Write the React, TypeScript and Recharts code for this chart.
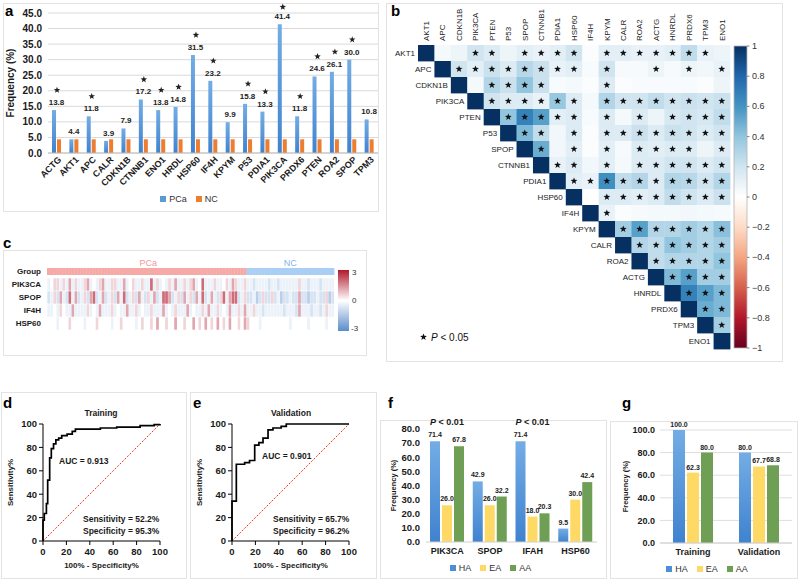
import React from 'react';
import {
  BarChart, Bar, XAxis, YAxis, CartesianGrid, Legend, LabelList,
  ScatterChart, Scatter, LineChart, Line, ReferenceLine,
} from 'recharts';

const FONT = '"Liberation Sans", Arial, Helvetica, sans-serif';
const INK = '#1a1a1a';

// a — detection frequency per protein, PCa vs NC
const freqGenes = ['ACTG', 'AKT1', 'APC', 'CALR', 'CDKN1B', 'CTNNB1', 'ENO1', 'HRDL', 'HSP60', 'IF4H', 'KPYM', 'P53', 'PDIA1', 'PIK3CA', 'PRDX6', 'PTEN', 'ROA2', 'SPOP', 'TPM3'];
const freqPCa = [13.8, 4.4, 11.8, 3.9, 7.9, 17.2, 13.8, 14.8, 31.5, 23.2, 9.9, 15.8, 13.3, 41.4, 11.8, 24.6, 26.1, 30.0, 10.8];
const freqNC = [4.4, 4.4, 4.4, 4.4, 4.4, 4.4, 4.4, 4.4, 4.4, 4.4, 4.4, 4.4, 4.4, 4.4, 4.4, 4.4, 4.4, 4.4, 4.4];
const freqSig = [1, 0, 1, 0, 0, 1, 1, 1, 1, 1, 0, 1, 1, 1, 1, 1, 1, 1, 0];
const freqTicks = [0, 5, 10, 15, 20, 25, 30, 35, 40, 45];

// b — pairwise correlation (upper triangle, row by row, diagonal = 1)
const corrGenes = ['AKT1', 'APC', 'CDKN1B', 'PIK3CA', 'PTEN', 'P53', 'SPOP', 'CTNNB1', 'PDIA1', 'HSP60', 'IF4H', 'KPYM', 'CALR', 'ROA2', 'ACTG', 'HNRDL', 'PRDX6', 'TPM3', 'ENO1'];
const corrUpper = [
  [0.05, 0.08, 0.2, 0.15, 0.08, 0.12, 0.1, 0.12, 0.2, 0.02, 0.12, 0.12, 0.1, 0.1, 0.12, 0.25, 0.1, 0.08],
  [0.2, 0.12, 0.22, 0.15, 0.28, 0.22, 0.1, 0.12, 0.03, 0.2, 0.04, 0.04, 0.08, 0.04, 0.08, 0.06, 0.1],
  [0.05, 0.3, 0.22, 0.4, 0.22, 0.03, 0.05, 0.02, 0.15, 0.02, 0.03, 0.03, 0.03, 0.03, 0.02, 0.08],
  [0.2, 0.15, 0.15, 0.1, 0.38, 0.15, 0.05, 0.3, 0.2, 0.2, 0.25, 0.2, 0.22, 0.2, 0.22],
  [0.4, 0.68, 0.55, 0.12, 0.15, 0.03, 0.15, 0.05, 0.15, 0.08, 0.18, 0.2, 0.18, 0.25],
  [0.45, 0.25, 0.06, 0.15, 0.02, 0.15, 0.15, 0.22, 0.15, 0.22, 0.2, 0.15, 0.2],
  [0.5, 0.06, 0.12, 0.02, 0.12, 0.04, 0.15, 0.12, 0.15, 0.15, 0.08, 0.15],
  [0.1, 0.15, 0.06, 0.12, 0.05, 0.15, 0.15, 0.2, 0.2, 0.15, 0.2],
  [0.12, 0.1, 0.62, 0.25, 0.3, 0.15, 0.3, 0.28, 0.2, 0.3],
  [0.0, 0.15, 0.15, 0.12, 0.15, 0.25, 0.2, 0.15, 0.22],
  [0.1, 0.02, 0.04, 0.05, 0.05, 0.06, 0.05, 0.04],
  [0.35, 0.55, 0.3, 0.3, 0.35, 0.3, 0.42],
  [0.3, 0.25, 0.4, 0.35, 0.3, 0.35],
  [0.25, 0.3, 0.3, 0.3, 0.4],
  [0.45, 0.55, 0.35, 0.35],
  [0.68, 0.55, 0.45],
  [0.5, 0.45],
  [0.35],
];
const corrStars = [
  '..**.****.*******.',
  '********.*..*.*.*',
  '.****...*.......',
  '******.********',
  '*****.*.*.****',
  '**.*.********',
  '*.*.*.****.*',
  '**.*.******',
  '**********',
  '.********',
  '*.......',
  '*******',
  '******',
  '*****',
  '****',
  '***',
  '**',
  '*',
];
const corrBarTicks = [1, 0.8, 0.6, 0.4, 0.2, 0, -0.2, -0.4, -0.6, -0.8, -1];

// c — per-sample z-scores; one letter per sample (see exprLevels)
const exprRows = ['PIK3CA', 'SPOP', 'IF4H', 'HSP60'];
const exprPCa = [
  'cdeececfcec cefcdcefcce eccfcdeccec cgcecdcecfc cecefcdgccc eccdecfecce',
  'bcebfcbgcfb cebfgbcfbce bfcgbcebfcb ecfbcggfbce bfcebfcgbcf cbegcfggbce',
  'ccdcedccfcc ccecdcfccce cdccfccecdc cecccfcdcec ccfcdccecfc cecdcfccecf',
  'dddcdddeddd dcdddeddddc ddeddddcded dedfddeddfd deddfdedfde dfdedfddedf',
];
const exprNC = [
  'ccbccccbccb cccccceccbc ccbcccc',
  'bbcabebbebc abbcbbfbbab bcbbeab',
  'cceccbccccc cbcccbfcccb ccbcecc',
  'edddcdddddd dddcdddddcd ddddcdd',
];
const exprLevels: Record<string, number> = { a: -1.3, b: -0.75, c: -0.35, d: 0, e: 0.55, f: 1.15, g: 1.9 };

// d, e — ROC curves (100 - specificity, sensitivity)
const trainFpr = [0, 0, 1.1, 2.9, 4, 5.7, 7.1, 9, 11, 13.4, 16, 20.6, 25, 27.7, 49, 63, 83, 95, 100];
const trainTpr = [0, 17.8, 23.5, 32, 52, 71, 79, 83, 86.5, 88, 90, 91.4, 93.7, 95.7, 96.6, 97.4, 98.6, 99.4, 100];
const validFpr = [0, 0, 3.7, 10.8, 15, 19.4, 23, 26.5, 30.8, 35, 42, 46.4, 100];
const validTpr = [0, 34, 65.6, 67, 68.8, 82, 84, 88, 95, 96.6, 98, 100, 100];
const rocTicks = [0, 20, 40, 60, 80, 100];

// f — frequency by ancestry
const raceGenes = ['PIK3CA', 'SPOP', 'IFAH', 'HSP60'];
const raceHA = [71.4, 42.9, 71.4, 9.5];
const raceEA = [26.0, 26.0, 18.0, 30.0];
const raceAA = [67.8, 32.2, 20.3, 42.4];
const raceNote = ['P < 0.01', '', 'P < 0.01', ''];
const raceTicks = [0, 10, 20, 30, 40, 50, 60, 70, 80];

// g — model accuracy by ancestry
const cohorts = ['Training', 'Validation'];
const cohortHA = [100.0, 80.0];
const cohortEA = [62.3, 67.7];
const cohortAA = [80.0, 68.8];
const cohortTicks = [0, 20, 40, 60, 80, 100];

const C_BLUE = '#4a8fd8';
const C_ORANGE = '#ed7d31';
const C_YELLOW = '#ffd966';
const C_GREEN = '#6f9e55';

// ---------- helpers ----------
const rgb = (h: string) => [1, 3, 5].map((k) => parseInt(h.slice(k, k + 2), 16));
const mix = (a: string, b: string, t: number) => {
  const A = rgb(a), B = rgb(b);
  return `rgb(${A.map((v, i) => Math.round(v + (B[i] - v) * t)).join(',')})`;
};
const corrStops: [number, string][] = [
  [-1, '#67001F'], [-0.8, '#B2182B'], [-0.6, '#D6604D'], [-0.4, '#F4A582'], [-0.2, '#FDDBC7'],
  [0, '#FFFFFF'], [0.2, '#D1E5F0'], [0.4, '#92C5DE'], [0.6, '#4393C3'], [0.8, '#2166AC'], [1, '#053061'],
];
const corrColor = (v: number) => {
  for (let k = 0; k < corrStops.length - 1; k++) {
    const [v0, c0] = corrStops[k];
    const [v1, c1] = corrStops[k + 1];
    if (v <= v1) return mix(c0, c1, (v - v0) / (v1 - v0));
  }
  return corrStops[corrStops.length - 1][1];
};
const exprColor = (v: number) =>
  v < 0 ? mix('#ffffff', '#5a8dcc', Math.min(1, -v / 3)) : mix('#ffffff', '#b2182b', Math.min(1, v / 3));

const starPath = (cx: number, cy: number, r: number) => {
  let d = '';
  for (let k = 0; k < 10; k++) {
    const rr = k % 2 === 0 ? r : r * 0.42;
    const a = -Math.PI / 2 + (k * Math.PI) / 5;
    d += (k === 0 ? 'M' : 'L') + (cx + rr * Math.cos(a)).toFixed(2) + ',' + (cy + rr * Math.sin(a)).toFixed(2);
  }
  return d + 'Z';
};
const fmt1 = (v: any) => Number(v).toFixed(1);
const boldTick = (size: number) => ({ fontFamily: FONT, fontSize: size, fontWeight: 700, fill: INK });
const sideLabel = (value: string, offset: number, size: number) => ({
  value, angle: -90, position: 'insideLeft' as const, offset,
  fill: INK, fontSize: size, fontWeight: 700, fontFamily: FONT,
  style: { textAnchor: 'middle' },
});

function KeyRow({ items, height, padBottom, padLeft = 0 }: { items: [string, string][]; height: number; padBottom: number; padLeft?: number }) {
  return (
    <div style={{
      display: 'flex', justifyContent: 'center', alignItems: 'center', gap: 9, height,
      paddingBottom: padBottom, paddingLeft: padLeft, boxSizing: 'border-box',
      fontFamily: FONT, fontSize: 9, color: '#333',
    }}>
      {items.map(([name, color]) => (
        <span key={name} style={{ display: 'flex', alignItems: 'center' }}>
          <span style={{ display: 'inline-block', width: 6, height: 6, background: color, marginRight: 3 }} />
          {name}
        </span>
      ))}
    </div>
  );
}

const blueGradient = (id: string) => (
  <linearGradient id={id} x1="0" y1="0" x2="0" y2="1">
    <stop offset="0%" stopColor="#74ade5" />
    <stop offset="100%" stopColor="#3f82cf" />
  </linearGradient>
);

// ---------- a ----------
const freqData = freqGenes.map((gene, i) => ({ gene, PCa: freqPCa[i], NC: freqNC[i], star: freqSig[i] }));

function SlantTick({ x, y, payload }: any) {
  return (
    <text transform={`translate(${x + 3},${y + 1}) rotate(-45)`} textAnchor="end" dy="0.35em"
      fontFamily={FONT} fontSize={9} fontWeight={700} fill={INK}>
      {payload.value}
    </text>
  );
}
function FreqValue(props: any) {
  const vb = props.viewBox || props;
  return (
    <text x={vb.x + vb.width + 0.5} y={vb.y - 5} textAnchor="middle" fontFamily={FONT} fontSize={8} fontWeight={700} fill="#222">
      {fmt1(props.value)}
    </text>
  );
}
function FreqStar(props: any) {
  if (!props.value) return null;
  const vb = props.viewBox || props;
  return <path d={starPath(vb.x + vb.width + 1, Math.max(vb.y - 20, 7), 3.4)} fill="#222" />;
}

function FreqChart() {
  return (
    <BarChart width={380} height={212} data={freqData} margin={{ top: 13, right: 2, left: 0, bottom: 0 }} barSize={4} barGap={1}>
      <defs>{blueGradient('gradA')}</defs>
      <CartesianGrid vertical={false} stroke="#d9d9d9" />
      <XAxis dataKey="gene" interval={0} height={36} tickSize={0} tickMargin={4} tickLine={false}
        axisLine={{ stroke: '#bdbdbd' }} tick={<SlantTick />} />
      <YAxis width={48} domain={[0, 45]} ticks={freqTicks} interval={0} tickFormatter={fmt1} axisLine={false} tickLine={false}
        tickSize={0} tickMargin={6} tick={boldTick(10)} label={sideLabel('Frequency (%)', 10, 10)} />
      <Legend verticalAlign="bottom" content={() => (
        <KeyRow items={[['PCa', '#5b9bd5'], ['NC', C_ORANGE]]} height={23} padBottom={4} />
      )} />
      <Bar dataKey="PCa" fill="url(#gradA)" isAnimationActive={false}>
        <LabelList dataKey="PCa" content={<FreqValue />} />
        <LabelList dataKey="star" content={<FreqStar />} />
      </Bar>
      <Bar dataKey="NC" fill={C_ORANGE} isAnimationActive={false} />
    </BarChart>
  );
}

// ---------- b ----------
const B_W = 312, B_H = 304;
const CELL_W = B_W / corrGenes.length, CELL_H = B_H / corrGenes.length;
const corrCells: any[] = [];
corrGenes.forEach((_, i) => {
  corrCells.push({ x: i, y: i, v: 1, star: false, diag: true });
  (corrUpper[i] || []).forEach((v, k) => {
    corrCells.push({ x: i + k + 1, y: i, v, star: corrStars[i][k] === '*', diag: false });
  });
});
const bText = { fontFamily: FONT, fontSize: 8, fill: '#222' };

function CorrCell({ cx, cy, payload }: any) {
  return (
    <g>
      <rect x={cx - CELL_W / 2} y={cy - CELL_H / 2} width={CELL_W + 0.4} height={CELL_H + 0.4} fill={corrColor(payload.v)} />
      {payload.star && <path d={starPath(cx, cy, 3.6)} fill="#111" />}
      {payload.diag && (
        <text x={cx - CELL_W / 2 - 3} y={cy} textAnchor="end" dominantBaseline="central" {...bText}>
          {corrGenes[payload.y]}
        </text>
      )}
    </g>
  );
}
function CorrColTick({ x, y, payload }: any) {
  return (
    <text x={x} y={y} transform={`rotate(-90 ${x} ${y})`} dy="0.35em" textAnchor="start" {...bText}>
      {corrGenes[payload.value]}
    </text>
  );
}

function CorrChart() {
  return (
    <ScatterChart width={397} height={359} margin={{ top: 2, right: 397 - 32 - B_W, left: 32, bottom: 359 - 42 - B_H }}>
      <XAxis type="number" dataKey="x" orientation="top" domain={[-0.5, corrGenes.length - 0.5]}
        ticks={corrGenes.map((_, i) => i)} interval={0} height={40} axisLine={false} tickLine={false}
        tickSize={0} tickMargin={4} tick={<CorrColTick />} />
      <YAxis type="number" dataKey="y" domain={[-0.5, corrGenes.length - 0.5]} reversed hide />
      <Scatter data={corrCells} shape={<CorrCell />} isAnimationActive={false} />
    </ScatterChart>
  );
}

// ---------- c ----------
const decode = (s: string) => s.replace(/\s/g, '').split('').map((ch) => exprLevels[ch]);
const pcaN = decode(exprPCa[0]).length;
const ncN = decode(exprNC[0]).length;
const exprTotal = pcaN + ncN;
const C_W = 287, C_H = 65;
const C_CW = C_W / exprTotal, C_RH = C_H / 5;
const exprCells: any[] = [];
for (let j = 0; j < exprTotal; j++) {
  const group = j < pcaN ? 'PCa' : 'NC';
  const mid = j === Math.floor(pcaN / 2) || j === pcaN + Math.floor(ncN / 2);
  exprCells.push({ x: j, y: 0, group, label: mid ? group : '' });
}
exprRows.forEach((_, r) => {
  const vals = [...decode(exprPCa[r]), ...decode(exprNC[r])];
  vals.forEach((v, j) => exprCells.push({ x: j, y: r + 1, v }));
});

function ExprCell({ cx, cy, payload }: any) {
  if (payload.group) {
    const pca = payload.group === 'PCa';
    return (
      <g>
        <rect x={cx - C_CW / 2} y={cy - 3.5} width={C_CW + 0.4} height={7} fill={pca ? '#f6aaa8' : '#aacff4'} />
        {payload.label && (
          <text x={cx} y={cy - 5.5} textAnchor="middle" fontFamily={FONT} fontSize={9} fill={pca ? '#f39a98' : '#7fb5ee'}>
            {payload.label}
          </text>
        )}
      </g>
    );
  }
  // thin stripe per sample, with a hairline of white between samples
  return <rect x={cx - C_CW / 2 + 0.35} y={cy - C_RH / 2 + 0.3} width={C_CW - 0.3} height={C_RH - 0.6} fill={exprColor(payload.v)} />;
}

function ExprChart() {
  const rowNames = ['Group', ...exprRows];
  return (
    <ScatterChart width={370} height={120} margin={{ top: 25, right: 370 - 47 - C_W, left: 0, bottom: 120 - 25 - C_H }}>
      <XAxis type="number" dataKey="x" domain={[-0.5, exprTotal - 0.5]} hide />
      <YAxis type="number" dataKey="y" domain={[-0.5, 4.5]} reversed ticks={[0, 1, 2, 3, 4]} interval={0} width={47}
        tickFormatter={(i: number) => rowNames[i]} axisLine={false} tickLine={false} tickSize={0} tickMargin={6}
        tick={boldTick(8)} />
      <Scatter data={exprCells} shape={<ExprCell />} isAnimationActive={false} />
    </ScatterChart>
  );
}

// ---------- d, e ----------
function RocChart({ fpr, tpr }: { fpr: number[]; tpr: number[] }) {
  const curve = fpr.map((x, i) => ({ fpr: x, tpr: tpr[i] }));
  return (
    <LineChart width={188} height={189} data={curve} margin={{ top: 32, right: 28, left: 5, bottom: 8 }}>
      <XAxis type="number" dataKey="fpr" domain={[0, 100]} ticks={rocTicks} interval={0} height={32} stroke="#000"
        tickSize={4} tickMargin={3} tick={boldTick(9.5)}
        label={{ value: '100% - Specificity%', position: 'insideBottom', offset: 5, fill: INK, fontSize: 8, fontWeight: 700, fontFamily: FONT }} />
      <YAxis type="number" domain={[0, 100]} ticks={rocTicks} interval={0} width={38} stroke="#000"
        tickSize={4} tickMargin={2} tick={boldTick(9.5)} label={sideLabel('Sensitivity%', 5, 8)} />
      {/* chance diagonal */}
      <ReferenceLine segment={[{ x: 0, y: 0 }, { x: 100, y: 100 }]} stroke="#ff3311" strokeWidth={1} strokeDasharray="2 1.5" />
      <Line dataKey="tpr" type="stepAfter" stroke="#000" strokeWidth={1.7} dot={false} isAnimationActive={false} />
    </LineChart>
  );
}

// ---------- f, g ----------
function PNote(props: any) {
  if (!props.value) return null;
  const vb = props.viewBox || props;
  const text = String(props.value);
  return (
    <text x={vb.x + 17} y={25} textAnchor="middle" fontFamily={FONT} fontSize={9} fontWeight={700} fill={INK}>
      <tspan fontStyle="italic">{text.slice(0, 1)}</tspan>{text.slice(1)}
    </text>
  );
}
const valueLabel = { position: 'top' as const, formatter: fmt1, fill: '#222', fontSize: 7, fontWeight: 700, fontFamily: FONT };

function RaceChart() {
  const data = raceGenes.map((gene, i) => ({ gene, HA: raceHA[i], EA: raceEA[i], AA: raceAA[i], note: raceNote[i] }));
  return (
    <BarChart width={227} height={181} data={data} margin={{ top: 29, right: 10, left: 0, bottom: 0 }} barSize={10} barGap={2}>
      <defs>{blueGradient('gradF')}</defs>
      <XAxis dataKey="gene" height={18} tickLine={false} axisLine={{ stroke: '#cfcfcf' }} tickSize={0} tickMargin={6} tick={boldTick(9)} />
      <YAxis width={46} domain={[0, 80]} ticks={raceTicks} interval={0} tickFormatter={fmt1} axisLine={false} tickLine={false}
        tickSize={0} tickMargin={6} tick={boldTick(9.5)} label={sideLabel('Frequency (%)', 13, 7.5)} />
      <Legend verticalAlign="bottom" content={() => (
        <KeyRow items={[['HA', C_BLUE], ['EA', C_YELLOW], ['AA', C_GREEN]]} height={21} padBottom={5} padLeft={4} />
      )} />
      <Bar dataKey="HA" fill="url(#gradF)" isAnimationActive={false}>
        <LabelList dataKey="HA" offset={4} {...valueLabel} />
        <LabelList dataKey="note" content={<PNote />} />
      </Bar>
      <Bar dataKey="EA" fill={C_YELLOW} isAnimationActive={false}>
        <LabelList dataKey="EA" offset={4} {...valueLabel} />
      </Bar>
      <Bar dataKey="AA" fill={C_GREEN} isAnimationActive={false}>
        <LabelList dataKey="AA" offset={4} {...valueLabel} />
      </Bar>
    </BarChart>
  );
}

function CohortChart() {
  const data = cohorts.map((name, i) => ({ name, HA: cohortHA[i], EA: cohortEA[i], AA: cohortAA[i] }));
  return (
    <BarChart width={190} height={181} data={data} margin={{ top: 30, right: 8, left: 0, bottom: 0 }} barSize={12} barGap={2}>
      <defs>{blueGradient('gradG')}</defs>
      <CartesianGrid vertical={false} stroke="#dedede" />
      <XAxis dataKey="name" height={18} tickLine={false} axisLine={{ stroke: '#cfcfcf' }} tickSize={0} tickMargin={6} tick={boldTick(9)} />
      <YAxis width={50} domain={[0, 100]} ticks={cohortTicks} interval={0} tickFormatter={fmt1} axisLine={false} tickLine={false}
        tickSize={0} tickMargin={5} tick={boldTick(9)} label={sideLabel('Frequency (%)', 15, 7.5)} />
      <Legend verticalAlign="bottom" content={() => (
        <KeyRow items={[['HA', C_BLUE], ['EA', C_YELLOW], ['AA', C_GREEN]]} height={20} padBottom={4} padLeft={12} />
      )} />
      <Bar dataKey="HA" fill="url(#gradG)" isAnimationActive={false}>
        <LabelList dataKey="HA" offset={3} {...valueLabel} />
      </Bar>
      <Bar dataKey="EA" fill={C_YELLOW} isAnimationActive={false}>
        <LabelList dataKey="EA" offset={3} {...valueLabel} />
      </Bar>
      <Bar dataKey="AA" fill={C_GREEN} isAnimationActive={false}>
        <LabelList dataKey="AA" offset={3} {...valueLabel} />
      </Bar>
    </BarChart>
  );
}

// ---------- page ----------
const panelLetter = { fontFamily: FONT, fontSize: 15, fontWeight: 700, fill: '#000' };
const note = { fontFamily: FONT, fontSize: 8.5, fontWeight: 700, fill: INK, dominantBaseline: 'central' as const };

function Backdrop() {
  const cbTop = 46, cbH = 302;
  return (
    <svg width={800} height={581} style={{ position: 'absolute', left: 0, top: 0 }}>
      <defs>
        <linearGradient id="corrBar" x1="0" y1="0" x2="0" y2="1">
          {[...corrStops].reverse().map(([v, c]) => <stop key={v} offset={`${((1 - v) / 2) * 100}%`} stopColor={c} />)}
        </linearGradient>
        <linearGradient id="exprBar" x1="0" y1="0" x2="0" y2="1">
          <stop offset="0%" stopColor="#b2182b" />
          <stop offset="50%" stopColor="#ffffff" />
          <stop offset="100%" stopColor="#5a8dcc" />
        </linearGradient>
      </defs>
      <g fill="none" stroke="#e3e3e3">
        <rect x={3.5} y={3.5} width={375} height={208} />
        <rect x={386.5} y={3.5} width={396} height={358} />
        <rect x={3.5} y={250.5} width={363} height={105} />
        <rect x={1.5} y={392.5} width={185} height={186} />
        <rect x={190.5} y={392.5} width={186} height={186} />
        <rect x={380.5} y={420.5} width={226} height={158} />
        <rect x={610.5} y={421.5} width={187} height={157} />
      </g>
      <text x={5} y={16} {...panelLetter}>a</text>
      <text x={391} y={16} {...panelLetter}>b</text>
      <text x={3} y={248} {...panelLetter}>c</text>
      <text x={3} y={408} {...panelLetter}>d</text>
      <text x={193} y={408} {...panelLetter}>e</text>
      <text x={388} y={408} {...panelLetter}>f</text>
      <text x={622} y={408} {...panelLetter}>g</text>

      {/* b colour key */}
      <rect x={734} y={cbTop} width={13} height={cbH} fill="url(#corrBar)" stroke="#b5b5b5" strokeWidth={0.8} />
      {corrBarTicks.map((v) => {
        const y = cbTop + ((1 - v) / 2) * cbH;
        return (
          <g key={v}>
            <line x1={747} x2={749.5} y1={y} y2={y} stroke="#666" strokeWidth={0.8} />
            <text x={752} y={y} dominantBaseline="central" fontFamily={FONT} fontSize={9} fill="#333">
              {v === 0 ? '0' : v < 0 ? `\u2212${Math.abs(v)}` : String(v)}
            </text>
          </g>
        );
      })}
      <path d={starPath(423.5, 337, 3.6)} fill="#111" />
      <text x={431} y={337} dominantBaseline="central" fontFamily={FONT} fontSize={10} fill="#111">
        <tspan fontStyle="italic">P</tspan> {'< 0.05'}
      </text>

      {/* c colour key */}
      <rect x={338} y={270} width={11} height={61} fill="url(#exprBar)" />
      <text x={352} y={272} dominantBaseline="central" fontFamily={FONT} fontSize={8} fill="#333">3</text>
      <text x={352} y={300} dominantBaseline="central" fontFamily={FONT} fontSize={8} fill="#333">0</text>
      <text x={351} y={328} dominantBaseline="central" fontFamily={FONT} fontSize={8} fill="#333">-3</text>

      {/* d, e annotations */}
      <text x={101} y={413} textAnchor="middle" {...note}>Training</text>
      <text x={59} y={461} {...note}>AUC = 0.913</text>
      <text x={83} y={519} {...note}>Sensitivity = 52.2%</text>
      <text x={83} y={531} {...note}>Specificity = 95.3%</text>
      <text x={291} y={413} textAnchor="middle" {...note}>Validation</text>
      <text x={262} y={456} {...note}>AUC = 0.901</text>
      <text x={273} y={519} {...note}>Sensitivity = 65.7%</text>
      <text x={273} y={531} {...note}>Specificity = 96.2%</text>
    </svg>
  );
}

export default function App() {
  return (
    <div style={{ position: 'absolute', left: 0, top: 0, width: 800, height: 581, background: '#fff', overflow: 'hidden' }}>
      <Backdrop />
      <div style={{ position: 'absolute', left: 0, top: 0 }}><FreqChart /></div>
      <div style={{ position: 'absolute', left: 386, top: 3 }}><CorrChart /></div>
      <div style={{ position: 'absolute', left: 0, top: 240 }}><ExprChart /></div>
      <div style={{ position: 'absolute', left: 0, top: 392 }}><RocChart fpr={trainFpr} tpr={trainTpr} /></div>
      <div style={{ position: 'absolute', left: 189, top: 392 }}><RocChart fpr={validFpr} tpr={validTpr} /></div>
      <div style={{ position: 'absolute', left: 380, top: 400 }}><RaceChart /></div>
      <div style={{ position: 'absolute', left: 610, top: 400 }}><CohortChart /></div>
    </div>
  );
}
